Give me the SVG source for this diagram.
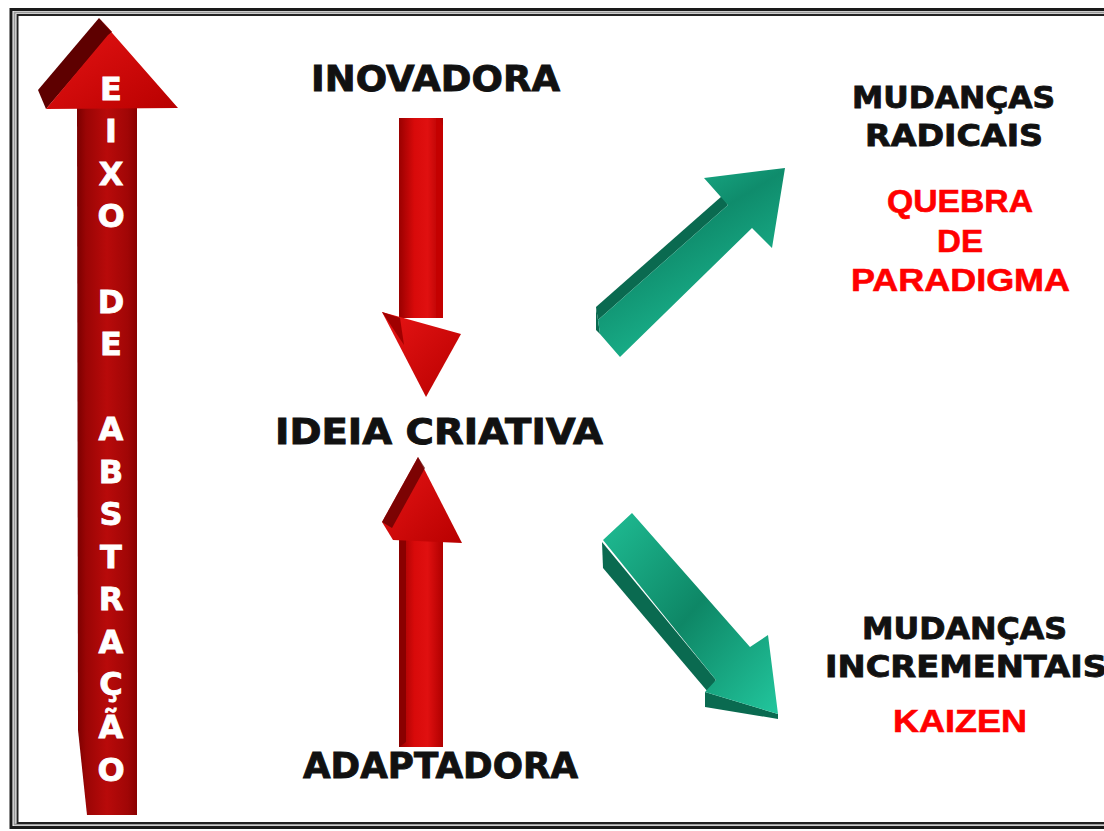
<svg xmlns="http://www.w3.org/2000/svg" width="1104" height="831" viewBox="0 0 1104 831">
<defs>
<linearGradient id="gAxis" x1="0" y1="0" x2="1" y2="0">
<stop offset="0" stop-color="#7a0000"/><stop offset="0.15" stop-color="#9a0505"/><stop offset="0.5" stop-color="#b80a0a"/><stop offset="0.85" stop-color="#a00606"/><stop offset="1" stop-color="#8a0000"/>
</linearGradient>
<linearGradient id="gShaft" x1="0" y1="0" x2="1" y2="0">
<stop offset="0" stop-color="#9a0000"/><stop offset="0.35" stop-color="#d80a0a"/><stop offset="0.65" stop-color="#e01010"/><stop offset="1" stop-color="#b00000"/>
</linearGradient>
<linearGradient id="gHead" x1="0" y1="0" x2="1" y2="1">
<stop offset="0" stop-color="#e81515"/><stop offset="1" stop-color="#b80000"/>
</linearGradient>
<linearGradient id="gGreenUp" x1="0" y1="0" x2="0.6" y2="1">
<stop offset="0" stop-color="#1fc39a"/><stop offset="0.45" stop-color="#0f8c6c"/><stop offset="1" stop-color="#1dbf96"/>
</linearGradient>
<linearGradient id="gGreenDown" x1="0" y1="0" x2="1" y2="1">
<stop offset="0" stop-color="#1fbd94"/><stop offset="0.5" stop-color="#0e8766"/><stop offset="1" stop-color="#22c69d"/>
</linearGradient>
<style>
.lbl{font-family:"DejaVu Sans",Verdana,sans-serif;font-weight:bold;fill:#111;stroke:#111;stroke-width:0.9px}
.red{font-family:"Liberation Sans",Arial,sans-serif;font-weight:bold;fill:#ff0000;stroke:#ff0000;stroke-width:0.6px}
.ax{font-family:"DejaVu Sans",Verdana,sans-serif;font-weight:bold;fill:#fff;stroke:#fff;stroke-width:0.8px;font-size:32px;text-anchor:middle}
.dk{fill:#5e0000}
.gdk{fill:#0a6a50}
</style>
</defs>
<rect width="1104" height="831" fill="#fff"/>
<g id="border" fill="none">
<rect x="11" y="9.5" width="1200" height="818" stroke="#1a1a1a" stroke-width="3"/>
<rect x="14.5" y="12.5" width="1200" height="812" stroke="#9a9a9a" stroke-width="2"/>
<rect x="17.5" y="15" width="1200" height="808" stroke="#222" stroke-width="2"/>
</g>
<g id="axis">
<polygon points="77,106 137,106 137,815 87,815 78,730" fill="url(#gAxis)"/>
<polygon points="38,90 99,18 112,32 46,109" class="dk"/>
<polygon points="46,109 108,35 112,32 99,18 178,108" fill="url(#gHead)"/>
<g class="ax">
<text x="111" y="100">E</text>
<text x="111" y="142">I</text>
<text x="111" y="185">X</text>
<text x="111" y="227">O</text>
<text x="111" y="313">D</text>
<text x="111" y="355">E</text>
<text x="111" y="440">A</text>
<text x="111" y="483">B</text>
<text x="111" y="525">S</text>
<text x="111" y="568">T</text>
<text x="111" y="610">R</text>
<text x="111" y="653">A</text>
<text x="111" y="695">Ç</text>
<text x="111" y="738">Ã</text>
<text x="111" y="781">O</text>
</g>
</g>
<g id="node-inovadora"><text class="lbl" x="311" y="91" font-size="35" textLength="249" lengthAdjust="spacingAndGlyphs">INOVADORA</text></g>
<g id="node-ideia"><text class="lbl" x="275" y="444" font-size="35" textLength="328" lengthAdjust="spacingAndGlyphs">IDEIA CRIATIVA</text></g>
<g id="node-adaptadora"><text class="lbl" x="303" y="778" font-size="35" textLength="275" lengthAdjust="spacingAndGlyphs">ADAPTADORA</text></g>
<g id="node-radicais">
<text class="lbl" x="852" y="108" font-size="31" textLength="203" lengthAdjust="spacingAndGlyphs">MUDANÇAS</text>
<text class="lbl" x="865" y="146" font-size="31" textLength="178" lengthAdjust="spacingAndGlyphs">RADICAIS</text>
<text class="red" x="887" y="212" font-size="32" textLength="146" lengthAdjust="spacingAndGlyphs">QUEBRA</text>
<text class="red" x="937" y="252" font-size="32" textLength="46" lengthAdjust="spacingAndGlyphs">DE</text>
<text class="red" x="851" y="291" font-size="32" textLength="219" lengthAdjust="spacingAndGlyphs">PARADIGMA</text>
</g>
<g id="node-incrementais">
<text class="lbl" x="862" y="639" font-size="31" textLength="205" lengthAdjust="spacingAndGlyphs">MUDANÇAS</text>
<text class="lbl" x="825" y="677" font-size="31" textLength="282" lengthAdjust="spacingAndGlyphs">INCREMENTAIS</text>
<text class="red" x="893" y="732" font-size="32" textLength="134" lengthAdjust="spacingAndGlyphs">KAIZEN</text>
</g>
<g id="connectors">
<g id="arrow-down">
<rect x="399" y="118" width="44" height="200" fill="url(#gShaft)"/>
<polygon points="436,118 439,118 443,126 443,318 436,318" fill="#c40000"/>
<polygon points="382,312 461,334 426,397" fill="url(#gHead)"/>
<polygon points="382,312 400,318 404,345" fill="#a00000"/>
</g>
<g id="arrow-up">
<rect x="399" y="538" width="44" height="209" fill="url(#gShaft)"/>
<polygon points="399,538 406,538 406,742 399,747" fill="#8a0000"/>
<polygon points="418,457 462,543 393,540 382,522" fill="url(#gHead)"/>
<polygon points="418,457 425,468 392,528 382,522" class="dk" opacity="0.75"/>
</g>
<g id="arrow-green-up">
<polygon points="596,307 722,196 728,205 598,320" class="gdk"/>
<polygon points="596,307 598,320 600,334 596,330" class="gdk"/>
<polygon points="598,320 728,205 704,178 785,168 772,248 752,228 620,357 600,334" fill="url(#gGreenUp)"/>
</g>
<g id="arrow-green-down">
<polygon points="602,542 716,680 708,692 603,568" class="gdk"/>
<polygon points="705,692 778,714 778,719 705,707" class="gdk"/>
<polygon points="603,540 632,513 750,647 768,635 778,714 705,692 716,680" fill="url(#gGreenDown)"/>
</g>
</g>
</svg>
